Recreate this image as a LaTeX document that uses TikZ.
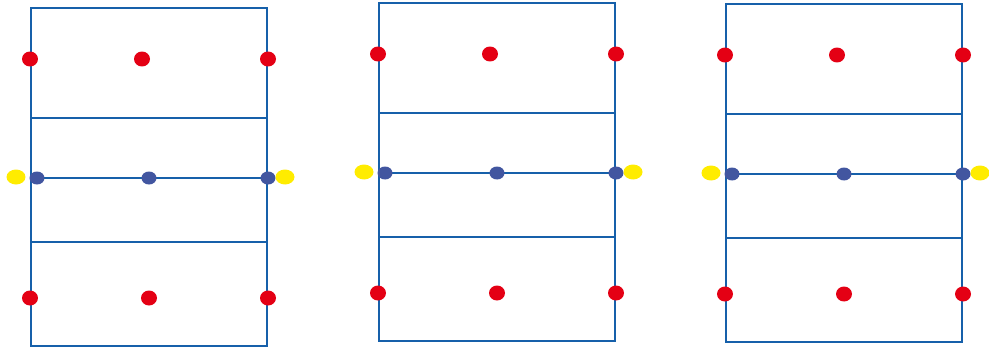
\documentclass[tikz,border=0pt]{standalone}
\usepackage{tikz}
\usetikzlibrary{shapes.geometric}
\definecolor{courtblue}{RGB}{22,96,170}
\definecolor{dotred}{RGB}{228,0,20}
\definecolor{dotblue}{RGB}{66,86,160}
\definecolor{dotyellow}{RGB}{255,236,0}

\begin{document}
\begin{tikzpicture}[
    x=0.02cm, y=-0.02cm,
    court/.style={draw=courtblue, line width=1.3pt},
    reddot/.style={ellipse, fill=dotred, minimum width=0.32cm, minimum height=0.3cm, inner sep=0pt},
    bluedot/.style={ellipse, fill=dotblue, minimum width=0.3cm, minimum height=0.26cm, inner sep=0pt},
    yellowdot/.style={ellipse, fill=dotyellow, minimum width=0.38cm, minimum height=0.3cm, inner sep=0pt}
]
\useasboundingbox (0,0) rectangle (989,348);

\foreach \i/\dx/\dy in {1/0/0, 2/348/-5, 3/695/-4} {
\begin{scope}[shift={(\dx,\dy)}]
% court lines
\draw[court] (31,8) rectangle (267,346);
\draw[court] (31,118) -- (267,118);
\draw[court] (31,242) -- (267,242);
\draw[court] (31,178) -- (267,178);

% players
\node[reddot] (tl\i) at (30,59) {};
\node[reddot] (tm\i) at (142,59) {};
\node[reddot] (tr\i) at (268,59) {};
\node[bluedot] (nl\i) at (37,178) {};
\node[bluedot] (nm\i) at (149,178) {};
\node[bluedot] (nr\i) at (268,178) {};
\node[yellowdot] (yl\i) at (16,177) {};
\node[yellowdot] (yr\i) at (285,177) {};
\node[reddot] (bl\i) at (30,298) {};
\node[reddot] (bm\i) at (149,298) {};
\node[reddot] (br\i) at (268,298) {};
\end{scope}
}
\end{tikzpicture}
\end{document}
